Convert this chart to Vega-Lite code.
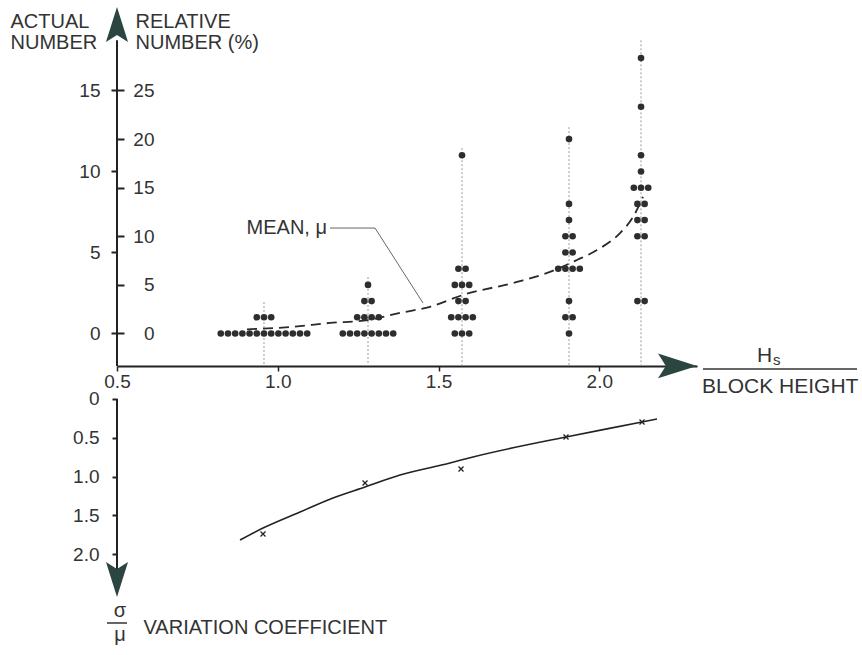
{
  "$schema": "https://vega.github.io/schema/vega-lite/v6.json",
  "width": 580,
  "height": 655,
  "autosize": {"type": "none"},
  "padding": {"left": 117, "top": 0, "right": 165, "bottom": 0},
  "background": "#ffffff",
  "config": {
    "view": {"stroke": null},
    "font": "Liberation Sans",
    "axis": {"grid": false, "labelFont": "Liberation Sans", "labelFontSize": 19, "labelColor": "#333333", "titleFont": "Liberation Sans", "titleFontSize": 20, "titleFontWeight": "normal", "titleColor": "#333333", "domainColor": "#222222", "tickColor": "#222222", "labelFlush": false, "labelOverlap": false, "labelBound": false},
    "text": {"font": "Liberation Sans", "fontSize": 20, "fill": "#333333"}
  },
  "datasets": {
    "dots": [
      {"hs": 0.8228, "n": 0}, {"hs": 0.8452, "n": 0}, {"hs": 0.8676, "n": 0}, {"hs": 0.89, "n": 0}, {"hs": 0.9124, "n": 0}, {"hs": 0.9348, "n": 0}, {"hs": 0.9572, "n": 0}, {"hs": 0.9796, "n": 0}, {"hs": 1.002, "n": 0}, {"hs": 1.0244, "n": 0}, {"hs": 1.0468, "n": 0}, {"hs": 1.0692, "n": 0}, {"hs": 1.0916, "n": 0},
      {"hs": 0.9348, "n": 1}, {"hs": 0.9572, "n": 1}, {"hs": 0.9796, "n": 1},
      {"hs": 1.2023, "n": 0}, {"hs": 1.2247, "n": 0}, {"hs": 1.2471, "n": 0}, {"hs": 1.2695, "n": 0}, {"hs": 1.2919, "n": 0}, {"hs": 1.3143, "n": 0}, {"hs": 1.3367, "n": 0}, {"hs": 1.3591, "n": 0},
      {"hs": 1.2471, "n": 1}, {"hs": 1.2695, "n": 1}, {"hs": 1.2919, "n": 1}, {"hs": 1.3143, "n": 1},
      {"hs": 1.2695, "n": 2}, {"hs": 1.2919, "n": 2},
      {"hs": 1.2807, "n": 3},
      {"hs": 1.5731, "n": 11},
      {"hs": 1.5619, "n": 4}, {"hs": 1.5843, "n": 4},
      {"hs": 1.5507, "n": 3}, {"hs": 1.5731, "n": 3}, {"hs": 1.5955, "n": 3},
      {"hs": 1.5619, "n": 2}, {"hs": 1.5843, "n": 2},
      {"hs": 1.5395, "n": 1}, {"hs": 1.5619, "n": 1}, {"hs": 1.5843, "n": 1}, {"hs": 1.6067, "n": 1},
      {"hs": 1.5507, "n": 0}, {"hs": 1.5731, "n": 0}, {"hs": 1.5955, "n": 0},
      {"hs": 1.9059, "n": 12}, {"hs": 1.9059, "n": 8}, {"hs": 1.9059, "n": 7},
      {"hs": 1.8947, "n": 6}, {"hs": 1.9171, "n": 6},
      {"hs": 1.8947, "n": 5}, {"hs": 1.9171, "n": 5},
      {"hs": 1.8723, "n": 4}, {"hs": 1.8947, "n": 4}, {"hs": 1.9171, "n": 4}, {"hs": 1.9395, "n": 4},
      {"hs": 1.9059, "n": 2},
      {"hs": 1.8947, "n": 1}, {"hs": 1.9171, "n": 1},
      {"hs": 1.9059, "n": 0},
      {"hs": 2.1299, "n": 17}, {"hs": 2.1299, "n": 14}, {"hs": 2.1299, "n": 11}, {"hs": 2.1299, "n": 10},
      {"hs": 2.1075, "n": 9}, {"hs": 2.1299, "n": 9}, {"hs": 2.1523, "n": 9},
      {"hs": 2.1187, "n": 8}, {"hs": 2.1411, "n": 8},
      {"hs": 2.1187, "n": 7}, {"hs": 2.1411, "n": 7},
      {"hs": 2.1187, "n": 6}, {"hs": 2.1411, "n": 6},
      {"hs": 2.1187, "n": 2}, {"hs": 2.1411, "n": 2}
    ],
    "guides": [
      {"hs": 0.9572, "n": 1.94}, {"hs": 1.2807, "n": 3.49}, {"hs": 1.5731, "n": 11.44}, {"hs": 1.9059, "n": 12.74}, {"hs": 2.1299, "n": 18.1}
    ],
    "mean": [
      {"hs": 0.9044, "n": 0.26}, {"hs": 1.0381, "n": 0.4}, {"hs": 1.1625, "n": 0.65}, {"hs": 1.2807, "n": 0.83}, {"hs": 1.3803, "n": 1.27}, {"hs": 1.4736, "n": 1.65}, {"hs": 1.5762, "n": 2.38}, {"hs": 1.7442, "n": 3.18}, {"hs": 1.8468, "n": 3.8}, {"hs": 1.9308, "n": 4.54}, {"hs": 1.993, "n": 5.15}, {"hs": 2.0645, "n": 6.2}, {"hs": 2.105, "n": 7.19}, {"hs": 2.1361, "n": 8.43}
    ],
    "leader": [
      {"hs": 1.1625, "n": 6.51}, {"hs": 1.3025, "n": 6.51}, {"hs": 1.4518, "n": 1.88}
    ],
    "cv": [
      {"hs": 0.9541, "cv": 1.742}, {"hs": 1.2714, "cv": 1.084}, {"hs": 1.57, "cv": 0.903}, {"hs": 1.8966, "cv": 0.49}, {"hs": 2.133, "cv": 0.297}
    ],
    "cvfit": [
      {"hs": 0.8826, "cv": 1.819}, {"hs": 0.9541, "cv": 1.665}, {"hs": 1.0692, "cv": 1.458}, {"hs": 1.1719, "cv": 1.277}, {"hs": 1.2714, "cv": 1.135}, {"hs": 1.3802, "cv": 0.981}, {"hs": 1.5358, "cv": 0.826}, {"hs": 1.6073, "cv": 0.748}, {"hs": 1.8966, "cv": 0.49}, {"hs": 2.133, "cv": 0.297}, {"hs": 2.1796, "cv": 0.258}
    ]
  },
  "layer": [
    {
      "layer": [
        {
          "data": {"name": "guides"},
          "mark": {"type": "rule", "stroke": "#9a9a9a", "strokeWidth": 1, "strokeDash": [2, 2]},
          "encoding": {
            "x": {"field": "hs", "type": "quantitative", "scale": {"domain": [0.5, 2.304], "nice": false, "zero": false}, "axis": null},
            "y": {"field": "n", "type": "quantitative", "scale": {"domain": [-19.846, 20.586], "nice": false, "zero": false},
              "axis": {"orient": "right", "offset": -580, "values": [0, 3, 6, 9, 12, 15], "labelExpr": "format(datum.value * 5 / 3, 'd')", "domain": false, "tickSize": 7, "tickWidth": 2, "labelPadding": 30, "labelAlign": "right", "labelBaseline": "middle", "title": ["RELATIVE", "NUMBER (%)"], "titleAngle": 0, "titleX": 18, "titleY": 27, "titleAlign": "left", "titleBaseline": "alphabetic", "titleLineHeight": 21}},
            "y2": {"datum": -2}
          }
        },
        {
          "data": {"name": "mean"},
          "mark": {"type": "line", "stroke": "#2a2a2a", "strokeWidth": 1.8, "strokeDash": [10, 6], "interpolate": "monotone"},
          "encoding": {
            "x": {"field": "hs", "type": "quantitative", "axis": null},
            "y": {"field": "n", "type": "quantitative", "axis": null}
          }
        },
        {
          "data": {"name": "leader"},
          "mark": {"type": "line", "stroke": "#666666", "strokeWidth": 1},
          "encoding": {
            "x": {"field": "hs", "type": "quantitative", "axis": null},
            "y": {"field": "n", "type": "quantitative", "axis": null}
          }
        },
        {
          "data": {"name": "dots"},
          "mark": {"type": "point", "filled": true, "size": 44, "color": "#2e2e2e", "opacity": 1},
          "encoding": {
            "x": {"field": "hs", "type": "quantitative", "scale": {"domain": [0.5, 2.304], "nice": false, "zero": false},
              "axis": {"orient": "bottom", "offset": -289, "values": [0.5, 1, 1.5, 2], "labelExpr": "format(datum.value, '.1f')", "tickSize": 5, "tickWidth": 1.5, "labelPadding": 1.5, "domainWidth": 2, "title": null}},
            "y": {"field": "n", "type": "quantitative", "scale": {"domain": [-19.846, 20.586], "nice": false, "zero": false},
              "axis": {"orient": "left", "values": [0, 5, 10, 15], "domain": false, "tickSize": 6, "tickWidth": 2, "labelPadding": 11, "title": ["ACTUAL", "NUMBER"], "titleAngle": 0, "titleX": -107, "titleY": 27, "titleAlign": "left", "titleBaseline": "alphabetic", "titleLineHeight": 21}}
          }
        },
        {
          "data": {"values": [{}]},
          "mark": {"type": "rule", "stroke": "#222222", "strokeWidth": 2},
          "encoding": {
            "x": {"datum": 0.5, "type": "quantitative", "axis": null},
            "y": {"datum": -2, "type": "quantitative", "axis": null},
            "y2": {"datum": 18.1}
          }
        },
        {
          "data": {"values": [{}]},
          "mark": {"type": "point", "shape": "M0,-1L0.63,1L0,0.6L-0.63,1Z", "size": 1225, "filled": true, "color": "#2b4540", "opacity": 1},
          "encoding": {
            "x": {"datum": 0.5, "type": "quantitative", "axis": null},
            "y": {"datum": 19.07, "type": "quantitative", "axis": null}
          }
        },
        {
          "data": {"values": [{}]},
          "mark": {"type": "point", "shape": "M1,0L-1,-0.64L-0.6,0L-1,0.64Z", "size": 1521, "filled": true, "color": "#2b4540", "opacity": 1},
          "encoding": {
            "x": {"datum": 2.2434, "type": "quantitative", "axis": null},
            "y": {"datum": -2, "type": "quantitative", "axis": null}
          }
        },
        {
          "data": {"values": [{}]},
          "mark": {"type": "text", "text": "MEAN, μ", "align": "right", "baseline": "alphabetic", "dx": -3},
          "encoding": {
            "x": {"datum": 1.1625, "type": "quantitative", "axis": null},
            "y": {"datum": 6.14, "type": "quantitative", "axis": null}
          }
        },
        {
          "data": {"values": [{}]},
          "mark": {"type": "text", "text": "H", "align": "left", "baseline": "alphabetic", "fontSize": 21},
          "encoding": {
            "x": {"datum": 2.4907, "type": "quantitative", "axis": null},
            "y": {"datum": -1.74, "type": "quantitative", "axis": null}
          }
        },
        {
          "data": {"values": [{}]},
          "mark": {"type": "text", "text": "s", "align": "left", "baseline": "alphabetic", "fontSize": 15},
          "encoding": {
            "x": {"datum": 2.5404, "type": "quantitative", "axis": null},
            "y": {"datum": -1.94, "type": "quantitative", "axis": null}
          }
        },
        {
          "data": {"values": [{}]},
          "mark": {"type": "rule", "stroke": "#333333", "strokeWidth": 1.5},
          "encoding": {
            "x": {"datum": 2.3227, "type": "quantitative", "axis": null},
            "x2": {"datum": 2.8017},
            "y": {"datum": -2.19, "type": "quantitative", "axis": null}
          }
        },
        {
          "data": {"values": [{}]},
          "mark": {"type": "text", "text": "BLOCK HEIGHT", "align": "left", "baseline": "alphabetic", "fontSize": 21},
          "encoding": {
            "x": {"datum": 2.3196, "type": "quantitative", "axis": null},
            "y": {"datum": -3.67, "type": "quantitative", "axis": null}
          }
        }
      ],
      "resolve": {"axis": {"x": "independent", "y": "independent"}}
    },
    {
      "layer": [
        {
          "data": {"name": "cvfit"},
          "mark": {"type": "line", "stroke": "#222222", "strokeWidth": 1.6, "interpolate": "monotone"},
          "encoding": {
            "x": {"field": "hs", "type": "quantitative", "axis": null},
            "y": {"field": "cv", "type": "quantitative", "scale": {"domain": [-5.148, 3.303], "reverse": true, "nice": false, "zero": false}, "axis": null}
          }
        },
        {
          "data": {"name": "cv"},
          "mark": {"type": "point", "shape": "M-1,-1L1,1M-1,1L1,-1", "size": 25, "filled": false, "stroke": "#222222", "strokeWidth": 1.3, "opacity": 1},
          "encoding": {
            "x": {"field": "hs", "type": "quantitative", "axis": null},
            "y": {"field": "cv", "type": "quantitative", "scale": {"domain": [-5.148, 3.303], "reverse": true, "nice": false, "zero": false},
              "axis": {"orient": "left", "values": [0, 0.5, 1, 1.5, 2], "labelExpr": "datum.value === 0 ? '0' : format(datum.value, '.1f')", "domain": false, "tickSize": 5, "tickWidth": 2, "labelPadding": 13, "title": "VARIATION COEFFICIENT", "titleAngle": 0, "titleX": 26, "titleY": 633, "titleAlign": "left", "titleBaseline": "alphabetic"}}
          }
        },
        {
          "data": {"values": [{}]},
          "mark": {"type": "rule", "stroke": "#222222", "strokeWidth": 2},
          "encoding": {
            "x": {"datum": 0.5, "type": "quantitative", "axis": null},
            "y": {"datum": 0, "type": "quantitative", "axis": null},
            "y2": {"datum": 2.2}
          }
        },
        {
          "data": {"values": [{}]},
          "mark": {"type": "point", "shape": "M0,1L-0.63,-1L0,-0.6L0.63,-1Z", "size": 1225, "filled": true, "color": "#2b4540", "opacity": 1},
          "encoding": {
            "x": {"datum": 0.5, "type": "quantitative", "axis": null},
            "y": {"datum": 2.329, "type": "quantitative", "axis": null}
          }
        },
        {
          "data": {"values": [{}]},
          "mark": {"type": "text", "text": "σ", "align": "center", "baseline": "alphabetic", "dx": 3},
          "encoding": {
            "x": {"datum": 0.5, "type": "quantitative", "axis": null},
            "y": {"datum": 2.813, "type": "quantitative", "axis": null}
          }
        },
        {
          "data": {"values": [{}]},
          "mark": {"type": "rule", "stroke": "#333333", "strokeWidth": 1.5},
          "encoding": {
            "x": {"datum": 0.4689, "type": "quantitative", "axis": null},
            "x2": {"datum": 0.5311},
            "y": {"datum": 2.89, "type": "quantitative", "axis": null}
          }
        },
        {
          "data": {"values": [{}]},
          "mark": {"type": "text", "text": "μ", "align": "center", "baseline": "alphabetic", "dx": 3},
          "encoding": {
            "x": {"datum": 0.5, "type": "quantitative", "axis": null},
            "y": {"datum": 3.123, "type": "quantitative", "axis": null}
          }
        }
      ],
      "resolve": {"axis": {"x": "independent", "y": "independent"}}
    }
  ],
  "resolve": {"scale": {"y": "independent"}, "axis": {"x": "independent", "y": "independent"}}
}
